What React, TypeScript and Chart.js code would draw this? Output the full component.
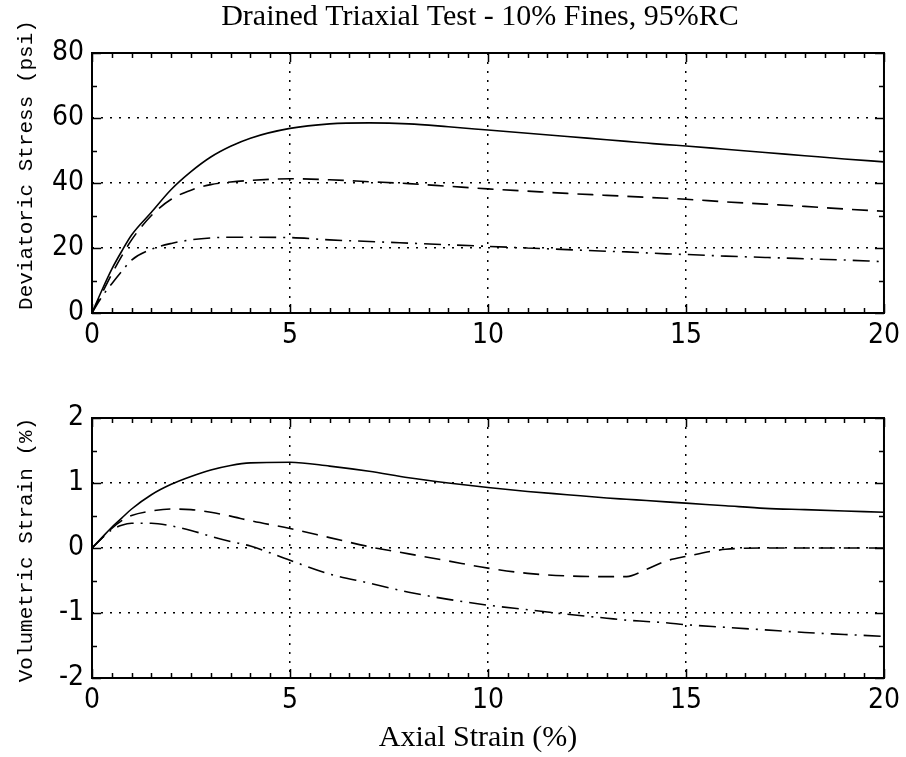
import React, { useEffect, useRef } from "react";
import { Chart, registerables } from "chart.js";
Chart.register(...registerables);

// ---- data ----
const axialStrain = [0, 0.25, 0.5, 0.75, 1, 1.5, 2, 2.5, 3, 3.5, 4, 5, 6, 7, 8, 9, 10, 11, 12, 13, 13.5, 14, 14.5, 15, 16, 17, 18, 19, 20];

const stressSolid = [0, 7, 13.5, 19, 24, 31, 38, 43.5, 48, 51.3, 53.8, 56.8, 58.2, 58.5, 58.2, 57.3, 56.3, 55.3, 54.3, 53.3, 52.8, 52.3, 51.8, 51.4, 50.4, 49.4, 48.4, 47.4, 46.5];
const stressDashed = [0, 6, 12, 17.5, 22.5, 30, 35, 37.8, 39.5, 40.3, 40.8, 41.3, 41, 40.4, 39.8, 39, 38.2, 37.5, 36.8, 36.2, 35.9, 35.6, 35.3, 35, 34.2, 33.5, 32.8, 32, 31.3];
const stressDashDot = [0, 5, 9, 12.8, 16.3, 19.6, 21.4, 22.5, 23.1, 23.3, 23.3, 23.2, 22.5, 22, 21.5, 21, 20.5, 20, 19.5, 19, 18.8, 18.5, 18.2, 18, 17.5, 17.1, 16.7, 16.3, 15.8];

const volSolid = [0, 0.16, 0.32, 0.46, 0.6, 0.82, 0.98, 1.1, 1.2, 1.27, 1.31, 1.32, 1.26, 1.18, 1.08, 1.0, 0.93, 0.87, 0.82, 0.77, 0.75, 0.73, 0.71, 0.69, 0.65, 0.61, 0.59, 0.57, 0.55];
const volDashed = [0, 0.15, 0.3, 0.42, 0.5, 0.57, 0.6, 0.59, 0.55, 0.49, 0.42, 0.3, 0.16, 0.02, -0.09, -0.2, -0.31, -0.39, -0.43, -0.44, -0.44, -0.33, -0.2, -0.13, -0.02, 0, 0, 0, 0];
const volDashDot = [0, 0.15, 0.28, 0.35, 0.38, 0.38, 0.34, 0.27, 0.18, 0.1, 0.03, -0.19, -0.4, -0.54, -0.68, -0.79, -0.88, -0.95, -1.02, -1.08, -1.11, -1.13, -1.15, -1.18, -1.22, -1.26, -1.3, -1.33, -1.36];

const titleText = "Drained Triaxial Test - 10% Fines, 95%RC";
const stressLabel = "Deviatoric Stress (psi)";
const volLabel = "Volumetric Strain (%)";
const xLabel = "Axial Strain (%)";

const xTicks = { min: 0, max: 20, step: 5, minor: 0.5 };
const stressTicks = { min: 0, max: 80, step: 20, minor: 10 };
const volTicks = { min: -2, max: 2, step: 1, minor: 0.5 };

// ---- styles ----
const SOLID: number[] = [];
const DASHED = [16, 9];
const DASHDOT = [17, 7, 2, 7];
const TICK_FONT = { family: '"Liberation Sans Narrow", "DejaVu Sans Condensed", sans-serif', size: 28 };
const SERIF = '"Liberation Serif", "Times New Roman", serif';
const MONO = '"Liberation Mono", "Courier New", monospace';

function mkDataset(ys: number[], dash: number[]) {
  return {
    data: axialStrain.map((x, i) => ({ x, y: ys[i] })),
    borderColor: "#000",
    borderWidth: 1.6,
    borderDash: dash,
    pointRadius: 0,
    fill: false,
    cubicInterpolationMode: "monotone" as const,
  };
}

function framePlugin(yMinor: number, yMajor: number) {
  return {
    id: "frame",
    afterDatasetsDraw(chart: any) {
      const { ctx, chartArea: a, scales } = chart;
      const x = scales.x, y = scales.y;
      ctx.save();
      ctx.setLineDash([]);
      ctx.strokeStyle = "#000";
      ctx.lineWidth = 1.5;
      ctx.beginPath();
      const nx = Math.round((xTicks.max - xTicks.min) / xTicks.minor);
      for (let i = 0; i <= nx; i++) {
        const v = xTicks.min + i * xTicks.minor;
        const px = Math.round(x.getPixelForValue(v)) + 0.5;
        const major = Math.abs(v / xTicks.step - Math.round(v / xTicks.step)) < 1e-6;
        const len = major ? 9 : 5;
        ctx.moveTo(px, a.bottom); ctx.lineTo(px, a.bottom - len);
        ctx.moveTo(px, a.top); ctx.lineTo(px, a.top + len);
      }
      const ymin = y.min, ymax = y.max;
      const ny = Math.round((ymax - ymin) / yMinor);
      for (let i = 0; i <= ny; i++) {
        const v = ymin + i * yMinor;
        const py = Math.round(y.getPixelForValue(v)) + 0.5;
        const major = Math.abs(v / yMajor - Math.round(v / yMajor)) < 1e-6;
        const len = major ? 9 : 5;
        ctx.moveTo(a.left, py); ctx.lineTo(a.left + len, py);
        ctx.moveTo(a.right, py); ctx.lineTo(a.right - len, py);
      }
      ctx.stroke();
      ctx.lineWidth = 2;
      ctx.strokeRect(a.left, a.top, a.right - a.left, a.bottom - a.top);
      ctx.restore();
    },
  };
}

function textPlugin(opts: { title?: string; yTitle: string; yShift: number; xTitle?: string; xTitleY?: number }) {
  return {
    id: "texts",
    afterDraw(chart: any) {
      const { ctx, chartArea: a } = chart;
      ctx.save();
      ctx.fillStyle = "#000";
      ctx.textAlign = "center";
      ctx.textBaseline = "middle";
      const cx = (a.left + a.right) / 2 - 8;
      if (opts.title) {
        ctx.font = `30px ${SERIF}`;
        ctx.fillText(opts.title, cx, 17);
      }
      if (opts.xTitle) {
        ctx.font = `30px ${SERIF}`;
        ctx.fillText(opts.xTitle, cx - 2, opts.xTitleY || 0);
      }
      ctx.translate(26, (a.top + a.bottom) / 2 + opts.yShift);
      ctx.rotate(-Math.PI / 2);
      ctx.font = `21px ${MONO}`;
      ctx.fillText(opts.yTitle, 0, 0);
      ctx.restore();
    },
  };
}

function makeConfig(
  sets: number[][],
  yT: { min: number; max: number; step: number; minor: number },
  xAxisHeight: number,
  texts: any
) {
  const dashes = [SOLID, DASHED, DASHDOT];
  return {
    type: "line" as const,
    data: { datasets: sets.map((s, i) => mkDataset(s, dashes[i])) },
    options: {
      animation: false as const,
      responsive: false,
      maintainAspectRatio: false,
      layout: { padding: { left: 0, right: 20, top: 53, bottom: 0 } },
      plugins: { legend: { display: false }, tooltip: { enabled: false }, title: { display: false } },
      scales: {
        x: {
          type: "linear" as const,
          min: xTicks.min,
          max: xTicks.max,
          ticks: { stepSize: xTicks.step, color: "#000", font: TICK_FONT, padding: 6, maxRotation: 0, autoSkip: false },
          grid: { color: "#000", lineWidth: 1.5, drawTicks: false },
          border: { display: false, dash: [2, 7] },
          afterFit(s: any) { s.height = xAxisHeight; },
        },
        y: {
          type: "linear" as const,
          min: yT.min,
          max: yT.max,
          ticks: { stepSize: yT.step, color: "#000", font: TICK_FONT, padding: 8 },
          grid: { color: "#000", lineWidth: 1.5, drawTicks: false },
          border: { display: false, dash: [2, 7] },
          afterFit(s: any) { s.width = 92; },
        },
      },
    },
    plugins: [framePlugin(yT.minor, yT.step), textPlugin(texts)],
  };
}

export default function App() {
  const topRef = useRef<HTMLCanvasElement>(null);
  const botRef = useRef<HTMLCanvasElement>(null);
  useEffect(() => {
    const c1 = new Chart(
      topRef.current as HTMLCanvasElement,
      makeConfig([stressSolid, stressDashed, stressDashDot], stressTicks, 52, { title: titleText, yTitle: stressLabel, yShift: -18 }) as any
    );
    const c2 = new Chart(
      botRef.current as HTMLCanvasElement,
      makeConfig([volSolid, volDashed, volDashDot], volTicks, 79, { yTitle: volLabel, yShift: 2, xTitle: xLabel, xTitleY: 373 }) as any
    );
    return () => { c1.destroy(); c2.destroy(); };
  }, []);
  return (
    <div style={{ position: "fixed", left: 0, top: 0, width: 906, height: 757, background: "#fff" }}>
      <canvas ref={topRef} width={906} height={365} style={{ display: "block", width: 906, height: 365 }} />
      <canvas ref={botRef} width={906} height={392} style={{ display: "block", width: 906, height: 392 }} />
    </div>
  );
}
